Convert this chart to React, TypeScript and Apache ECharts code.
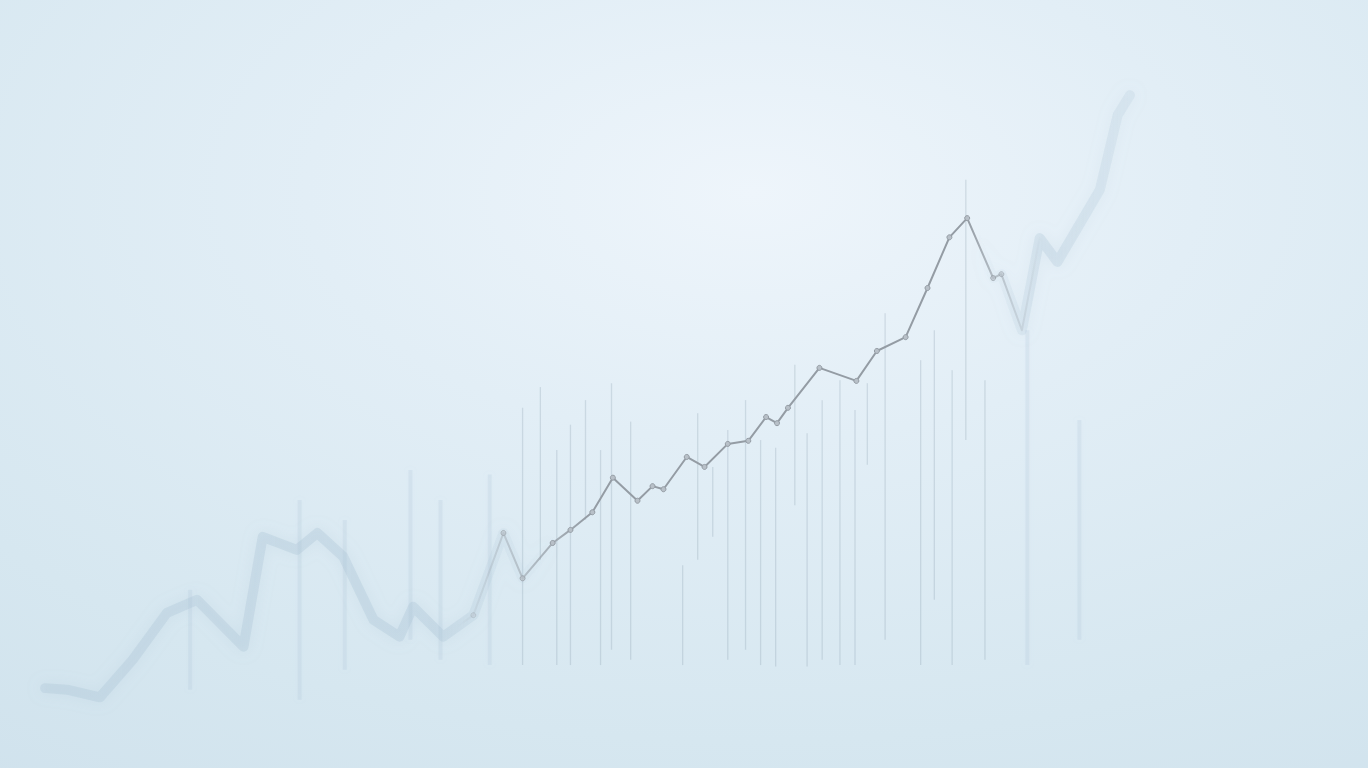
import React, { useEffect, useRef } from "react";
import * as echarts from "echarts";

// Price path (x = time position 0..100, y = value 0..100)
const lineX = [3.3, 4.9, 7.3, 9.7, 12.2, 14.4, 17.8, 19.2, 21.7, 23.2, 25.1, 27.3, 29.2, 30.2, 32.4, 34.6, 36.8, 38.2, 40.4, 41.7, 43.3, 44.8, 46.6, 47.7, 48.5, 50.2, 51.5, 53.2, 54.7, 56.0, 56.8, 57.6, 59.9, 62.6, 64.1, 66.2, 67.8, 69.4, 70.7, 72.6, 73.2, 74.7, 76.0, 77.3, 80.4, 81.7, 82.6];
const lineY = [10.4, 10.2, 9.2, 14.1, 20.2, 21.9, 15.8, 30.1, 28.4, 30.6, 27.5, 19.3, 17.1, 21.0, 17.1, 19.9, 30.6, 24.7, 29.3, 31.0, 33.3, 37.8, 34.8, 36.7, 36.3, 40.5, 39.2, 42.2, 42.6, 45.7, 44.9, 46.9, 52.1, 50.4, 54.3, 56.1, 62.5, 69.1, 71.6, 63.8, 64.3, 57.0, 69.0, 65.9, 75.3, 85.0, 87.6];

// Vertical range lines: position, low, high
const barX = [13.9, 21.9, 25.2, 30.0, 32.2, 35.8, 38.2, 39.5, 40.7, 41.7, 42.8, 43.9, 44.7, 46.1, 49.9, 51.0, 52.1, 53.2, 54.5, 55.6, 56.7, 58.1, 59.0, 60.1, 61.4, 62.5, 63.4, 64.7, 67.3, 68.3, 69.6, 70.6, 72.0, 75.1, 78.9];
const barLow = [10.2, 8.9, 12.8, 16.7, 14.1, 13.4, 13.4, 27.1, 13.4, 13.4, 32.3, 13.4, 15.4, 14.1, 13.4, 27.1, 30.1, 14.1, 15.4, 13.4, 13.2, 34.2, 13.2, 14.1, 13.4, 13.4, 39.5, 16.7, 13.4, 21.9, 13.4, 42.7, 14.1, 13.4, 16.7];
const barHigh = [23.2, 34.9, 32.3, 38.8, 34.9, 38.2, 46.9, 49.6, 41.4, 44.7, 47.9, 41.4, 50.1, 45.1, 26.4, 46.2, 39.2, 44.0, 47.9, 42.7, 41.7, 52.5, 43.6, 47.9, 50.5, 46.6, 50.1, 59.2, 53.1, 57.0, 51.8, 76.6, 50.5, 57.0, 45.3];

// depth-of-field: 1 = in focus, 0 = fully blurred
function focus(x: number): number {
  if (x >= 40 && x <= 71) return 1;
  if (x < 40) return Math.max(0, (x - 32) / 8);
  return Math.max(0, 1 - (x - 71) / 5);
}

export default function App() {
  const ref = useRef<HTMLDivElement>(null);

  useEffect(() => {
    if (!ref.current) return;
    const chart = echarts.init(ref.current, undefined, { renderer: "svg" });

    const lineData = lineX.map((x, i) => [x, lineY[i]]);
    const barData = barX.map((x, i) => [x, barLow[i], barHigh[i]]);

    const sharpData = lineData.map((p) => {
      const f = focus(p[0]);
      return {
        value: p,
        symbolSize: f > 0.3 ? 5 : 0,
        itemStyle: { opacity: f },
      };
    });

    chart.setOption({
      animation: false,
      backgroundColor: {
        type: "radial",
        x: 0.55,
        y: 0.25,
        r: 1.3,
        colorStops: [
          { offset: 0, color: "#eef5fb" },
          { offset: 0.25, color: "#e2eef6" },
          { offset: 0.55, color: "#d6e7f0" },
          { offset: 1, color: "#c7dbe8" },
        ],
      },
      grid: { left: 0, right: 0, top: 0, bottom: 0 },
      xAxis: { type: "value", min: 0, max: 100, show: false },
      yAxis: { type: "value", min: 0, max: 100, show: false },
      series: [
        {
          type: "custom",
          name: "range",
          encode: { x: 0, y: [1, 2] },
          data: barData,
          silent: true,
          renderItem: (params: any, api: any) => {
            const x = api.value(0);
            const p1 = api.coord([x, api.value(1)]);
            const p2 = api.coord([x, api.value(2)]);
            const f = focus(x);
            if (f > 0.5) {
              return {
                type: "line",
                shape: { x1: p1[0], y1: p1[1], x2: p2[0], y2: p2[1] },
                style: { stroke: "rgba(125,145,165,0.24)", lineWidth: 1.3 },
              };
            }
            const w = 4;
            return {
              type: "rect",
              shape: { x: p1[0] - w / 2, y: p2[1], width: w, height: p1[1] - p2[1] },
              style: {
                fill: "rgba(160,186,205,0.17)",
                shadowBlur: 6,
                shadowColor: "rgba(160,186,205,0.3)",
              },
            };
          },
        },
        {
          type: "line",
          name: "blur",
          data: lineData,
          symbol: "none",
          silent: true,
          lineStyle: {
            width: 10,
            cap: "round",
            join: "round",
            shadowBlur: 14,
            shadowColor: "rgba(160,185,205,0.55)",
            color: {
              type: "linear",
              x: 0,
              y: 0,
              x2: 1,
              y2: 0,
              colorStops: [
                { offset: 0, color: "rgba(168,193,211,0.3)" },
                { offset: 0.36, color: "rgba(168,193,211,0.32)" },
                { offset: 0.47, color: "rgba(168,193,211,0)" },
                { offset: 0.86, color: "rgba(168,193,211,0)" },
                { offset: 0.92, color: "rgba(168,193,211,0.28)" },
                { offset: 1, color: "rgba(168,193,211,0.18)" },
              ],
            },
          },
          z: 2,
        },
        {
          type: "line",
          name: "price",
          data: sharpData,
          symbol: "circle",
          silent: true,
          itemStyle: { color: "#b8c0c8", borderColor: "#949ca4", borderWidth: 1 },
          lineStyle: {
            width: 2,
            join: "round",
            color: {
              type: "linear",
              x: 0,
              y: 0,
              x2: 1,
              y2: 0,
              colorStops: [
                { offset: 0, color: "rgba(148,156,164,0)" },
                { offset: 0.38, color: "rgba(148,156,164,0)" },
                { offset: 0.46, color: "rgba(148,156,164,0.7)" },
                { offset: 0.5, color: "rgba(148,156,164,1)" },
                { offset: 0.85, color: "rgba(148,156,164,1)" },
                { offset: 0.89, color: "rgba(148,156,164,0.35)" },
                { offset: 0.92, color: "rgba(148,156,164,0)" },
                { offset: 1, color: "rgba(148,156,164,0)" },
              ],
            },
          },
          z: 3,
        },
      ],
    });

    return () => chart.dispose();
  }, []);

  return (
    <div
      ref={ref}
      style={{ position: "fixed", left: 0, top: 0, width: "100vw", height: "100vh" }}
    />
  );
}
